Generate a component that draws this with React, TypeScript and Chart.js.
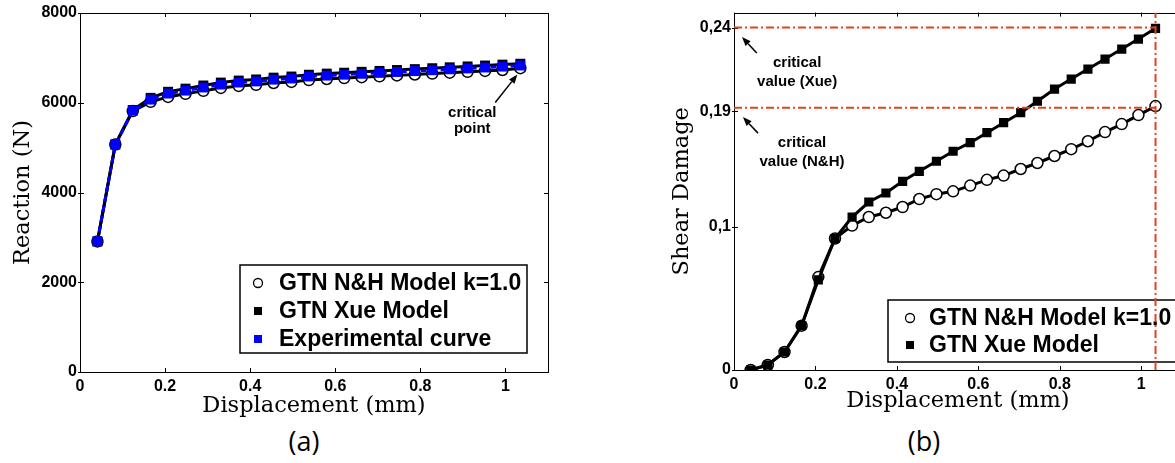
import React, { useEffect, useRef } from 'react';
import { Chart, registerables } from 'chart.js';

Chart.register(...registerables);

// ---------- data ----------
const displacement = [0.041, 0.083, 0.124, 0.166, 0.207, 0.248, 0.29, 0.331, 0.373, 0.414, 0.455, 0.497, 0.538, 0.58, 0.621, 0.662, 0.704, 0.745, 0.787, 0.828, 0.869, 0.911, 0.952, 0.993, 1.035];

const reactionNH = [2910, 5070, 5815, 6020, 6130, 6200, 6265, 6330, 6375, 6400, 6440, 6465, 6505, 6530, 6550, 6570, 6590, 6610, 6630, 6650, 6670, 6690, 6710, 6730, 6770];
const reactionXue = [2910, 5070, 5840, 6110, 6245, 6315, 6385, 6450, 6495, 6520, 6560, 6585, 6625, 6650, 6670, 6690, 6710, 6730, 6750, 6770, 6790, 6810, 6830, 6850, 6870];
const reactionExp = [2910, 5070, 5825, 6070, 6205, 6270, 6340, 6405, 6450, 6475, 6515, 6540, 6585, 6605, 6625, 6645, 6665, 6685, 6705, 6725, 6745, 6765, 6785, 6805, 6830];

const damageNH = [0, 0.0035, 0.0126, 0.031, 0.065, 0.092, 0.101, 0.107, 0.11, 0.114, 0.1196, 0.123, 0.125, 0.129, 0.133, 0.136, 0.1406, 0.1448, 0.1497, 0.1545, 0.16, 0.1664, 0.172, 0.1783, 0.1846];
const damageXue = [0, 0.0035, 0.0126, 0.031, 0.063, 0.092, 0.107, 0.1175, 0.1238, 0.132, 0.139, 0.146, 0.153, 0.159, 0.166, 0.173, 0.18, 0.188, 0.1965, 0.2035, 0.2105, 0.2175, 0.2245, 0.2315, 0.239];

const dispTicks = [0, 0.2, 0.4, 0.6, 0.8, 1];
const dispTickLabels = ['0', '0.2', '0.4', '0.6', '0.8', '1'];
const reactionTicks = [0, 2000, 4000, 6000, 8000];
const reactionTickLabels = ['0', '2000', '4000', '6000', '8000'];
const damageTicks = [0, 0.1, 0.181, 0.2395];
const damageTickLabels = ['0', '0,1', '0,19', '0,24'];

const critDisp = 1.035;
const critDamageXue = 0.2395;
const critDamageNH = 0.1835;

const labelNH = 'GTN N&H Model k=1.0';
const labelXue = 'GTN Xue Model';
const labelExp = 'Experimental curve';

// annotations (data coordinates)
const annotationsA = [
  { lines: ['critical', 'point'], x: 0.922, ys: [5782, 5425], from: [0.976, 6005], to: [1.028, 6628] },
];
const annotationsB = [
  { lines: ['critical', 'value (Xue)'], x: 0.155, ys: [0.2147, 0.2014], from: [0.056, 0.2217], to: [0.0196, 0.2329] },
  { lines: ['critical', 'value (N&H)'], x: 0.167, ys: [0.1587, 0.1455], from: [0.059, 0.1657], to: [0.022, 0.1769] },
];

// ---------- styling ----------
const SANS = '"Liberation Sans", Arial, Helvetica, sans-serif';
const RED = '#e2421f';
const BLUE = '#0000ff';

const xy = (xs: number[], ys: number[]) => xs.map((x, i) => ({ x, y: ys[i] }));

function makeAxis(kind: 'x' | 'y', min: number, max: number, ticks: number[], labels: string[], title: string, fit: number, titlePad: any) {
  return {
    type: 'linear',
    min,
    max,
    afterBuildTicks: (s: any) => {
      s.ticks = ticks.map((v) => ({ value: v }));
    },
    afterFit: (s: any) => {
      if (kind === 'x') s.height = fit;
      else s.width = fit;
    },
    grid: { display: false, drawTicks: false },
    border: { display: false },
    ticks: {
      autoSkip: false,
      maxRotation: 0,
      padding: kind === 'x' ? 5 : 3,
      color: '#000',
      font: { family: SANS, size: 16, weight: 'bold' },
      callback: (v: number) => {
        const i = ticks.indexOf(v);
        return i >= 0 ? labels[i] : '';
      },
    },
    title: {
      display: true,
      text: title,
      color: '#000',
      font: { family: '"DejaVu Serif", serif', size: 22.5, weight: 'normal' },
      padding: titlePad,
    },
  };
}

const framePlugin = {
  id: 'frameTicks',
  beforeDatasetsDraw(chart: any) {
    const { ctx, chartArea: a, scales } = chart;
    ctx.save();
    ctx.strokeStyle = '#000';
    ctx.lineWidth = 1;
    ctx.strokeRect(Math.round(a.left) + 0.5, Math.round(a.top) + 0.5, Math.round(a.right - a.left), Math.round(a.bottom - a.top));
    const tl = 4;
    ctx.beginPath();
    scales.x.ticks.forEach((t: any) => {
      const px = Math.round(scales.x.getPixelForValue(t.value)) + 0.5;
      ctx.moveTo(px, a.top);
      ctx.lineTo(px, a.top + tl);
      ctx.moveTo(px, a.bottom);
      ctx.lineTo(px, a.bottom - tl);
    });
    scales.y.ticks.forEach((t: any) => {
      const py = Math.round(scales.y.getPixelForValue(t.value)) + 0.5;
      ctx.moveTo(a.left - 2, py);
      ctx.lineTo(a.left + tl, py);
      ctx.moveTo(a.right, py);
      ctx.lineTo(a.right - tl, py);
    });
    ctx.stroke();
    ctx.restore();
  },
};

function makeLegendPlugin(box: { left: number; top: number; right: number; bottom: number }, rows: number[], markerX: number, textX: number) {
  return {
    id: 'boxLegend',
    beforeDatasetsDraw(chart: any) {
      const { ctx } = chart;
      const items = chart.data.datasets.filter((d: any) => d.inLegend);
      ctx.save();
      ctx.fillStyle = '#fff';
      ctx.fillRect(box.left, box.top, box.right - box.left, box.bottom - box.top);
      ctx.strokeStyle = '#000';
      ctx.lineWidth = 1.5;
      ctx.strokeRect(box.left, box.top, box.right - box.left, box.bottom - box.top);
      items.forEach((d: any, i: number) => {
        const y = rows[i];
        if (d.pointStyle === 'circle') {
          ctx.beginPath();
          ctx.arc(markerX, y, 4.5, 0, Math.PI * 2);
          ctx.fillStyle = '#fff';
          ctx.fill();
          ctx.lineWidth = 1.3;
          ctx.strokeStyle = '#000';
          ctx.stroke();
        } else {
          ctx.fillStyle = d.pointBackgroundColor;
          ctx.fillRect(markerX - 4, y - 4, 8, 8);
        }
        ctx.fillStyle = '#000';
        ctx.font = `bold 23px ${SANS}`;
        ctx.textAlign = 'left';
        ctx.textBaseline = 'middle';
        ctx.fillText(d.label, textX, y + 1);
      });
      ctx.restore();
    },
  };
}

function drawArrow(ctx: CanvasRenderingContext2D, x1: number, y1: number, x2: number, y2: number) {
  const ang = Math.atan2(y2 - y1, x2 - x1);
  const len = 9;
  const w = 3.5;
  const bx = x2 - len * Math.cos(ang);
  const by = y2 - len * Math.sin(ang);
  ctx.beginPath();
  ctx.moveTo(x1, y1);
  ctx.lineTo(bx, by);
  ctx.stroke();
  ctx.beginPath();
  ctx.moveTo(x2, y2);
  ctx.lineTo(bx + w * Math.sin(ang), by - w * Math.cos(ang));
  ctx.lineTo(bx - w * Math.sin(ang), by + w * Math.cos(ang));
  ctx.closePath();
  ctx.fill();
}

function makeAnnotationPlugin(anns: any[]) {
  return {
    id: 'annotations',
    afterDraw(chart: any) {
      const { ctx, scales } = chart;
      ctx.save();
      ctx.fillStyle = '#000';
      ctx.strokeStyle = '#000';
      ctx.lineWidth = 1.5;
      ctx.font = `bold 15px ${SANS}`;
      ctx.textAlign = 'center';
      ctx.textBaseline = 'middle';
      anns.forEach((a) => {
        const px = scales.x.getPixelForValue(a.x);
        a.lines.forEach((t: string, i: number) => {
          ctx.fillText(t, px, scales.y.getPixelForValue(a.ys[i]));
        });
        drawArrow(
          ctx,
          scales.x.getPixelForValue(a.from[0]),
          scales.y.getPixelForValue(a.from[1]),
          scales.x.getPixelForValue(a.to[0]),
          scales.y.getPixelForValue(a.to[1])
        );
      });
      ctx.restore();
    },
  };
}

function configA(): any {
  return {
    type: 'line',
    data: {
      datasets: [
        {
          label: labelNH, inLegend: true, data: xy(displacement, reactionNH), order: 2,
          borderColor: '#000', borderWidth: 3, pointStyle: 'circle', pointRadius: 5.5,
          pointBackgroundColor: '#fff', pointBorderColor: '#000', pointBorderWidth: 1.5,
        },
        {
          label: labelXue, inLegend: true, data: xy(displacement, reactionXue), order: 1,
          borderColor: '#000', borderWidth: 3, pointStyle: 'rect', pointRadius: 7,
          pointBackgroundColor: '#000', pointBorderColor: '#000', pointBorderWidth: 0,
        },
        {
          label: labelExp, inLegend: true, data: xy(displacement, reactionExp), order: 0,
          borderColor: BLUE, borderWidth: 3, borderDash: [6, 4], pointStyle: 'rect', pointRadius: 7,
          pointBackgroundColor: BLUE, pointBorderColor: BLUE, pointBorderWidth: 0,
        },
      ],
    },
    options: {
      animation: false,
      responsive: false,
      devicePixelRatio: 1,
      events: [],
      layout: { padding: { left: 0, top: 13, right: 52, bottom: 0 } },
      scales: {
        x: makeAxis('x', 0, 1.1, dispTicks, dispTickLabels, 'Displacement (mm)', 48, { top: 0, bottom: 0 }),
        y: makeAxis('y', 0, 8000, reactionTicks, reactionTickLabels, 'Reaction (N)', 80, { top: 10, bottom: 0 }),
      },
      plugins: { legend: { display: false }, tooltip: { enabled: false } },
    },
    plugins: [
      framePlugin,
      makeLegendPlugin({ left: 240, top: 265, right: 527, bottom: 353 }, [283, 311, 339], 258, 279),
      makeAnnotationPlugin(annotationsA),
    ],
  };
}

function configB(): any {
  const redLine = {
    borderColor: RED, borderWidth: 2, borderDash: [8, 3, 2, 3], pointRadius: 0, order: -1, inLegend: false,
  };
  return {
    type: 'line',
    data: {
      datasets: [
        {
          label: labelNH, inLegend: true, data: xy(displacement, damageNH), order: 2,
          borderColor: '#000', borderWidth: 3, pointStyle: 'circle', pointRadius: 5.5,
          pointBackgroundColor: '#fff', pointBorderColor: '#000', pointBorderWidth: 1.5,
        },
        {
          label: labelXue, inLegend: true, data: xy(displacement, damageXue), order: 1,
          borderColor: '#000', borderWidth: 3, pointStyle: 'rect', pointRadius: 6.5,
          pointBackgroundColor: '#000', pointBorderColor: '#000', pointBorderWidth: 0,
        },
        { ...redLine, label: 'crit Xue', data: [{ x: 0, y: critDamageXue }, { x: critDisp, y: critDamageXue }] },
        { ...redLine, label: 'crit NH', data: [{ x: 0, y: critDamageNH }, { x: critDisp, y: critDamageNH }] },
        { ...redLine, label: 'crit disp', data: [{ x: critDisp, y: 0 }, { x: critDisp, y: 0.25 }] },
      ],
    },
    options: {
      animation: false,
      responsive: false,
      devicePixelRatio: 1,
      events: [],
      layout: { padding: { left: 0, top: 12, right: 28, bottom: 0 } },
      scales: {
        x: makeAxis('x', 0, 1.1, dispTicks, dispTickLabels, 'Displacement (mm)', 50, { top: 0, bottom: 5 }),
        y: makeAxis('y', 0, 0.25, damageTicks, damageTickLabels, 'Shear Damage', 84, { top: 19, bottom: 0 }),
      },
      plugins: { legend: { display: false }, tooltip: { enabled: false } },
    },
    plugins: [
      framePlugin,
      makeLegendPlugin({ left: 238, top: 300, right: 530, bottom: 362 }, [318, 345], 260, 279),
      makeAnnotationPlugin(annotationsB),
    ],
  };
}

function ChartCanvas({ make, left, width, height }: { make: () => any; left: number; width: number; height: number }) {
  const ref = useRef<HTMLCanvasElement>(null);
  useEffect(() => {
    const chart = new Chart(ref.current as HTMLCanvasElement, make());
    return () => chart.destroy();
  }, []);
  return (
    <canvas
      ref={ref}
      width={width}
      height={height}
      style={{ position: 'absolute', left, top: 0, width, height }}
    />
  );
}

export default function App() {
  const capStyle: React.CSSProperties = {
    position: 'absolute',
    top: 424,
    width: 80,
    textAlign: 'center',
    fontFamily: '"Open Sans", sans-serif',
    fontSize: 27,
    lineHeight: '34px',
    color: '#000',
  };
  return (
    <div style={{ position: 'absolute', left: 0, top: 0, width: 1175, height: 463, overflow: 'hidden', background: '#fff' }}>
      <ChartCanvas make={configA} left={0} width={600} height={420} />
      <ChartCanvas make={configB} left={650} width={560} height={420} />
      <div style={{ ...capStyle, left: 264 }}>(a)</div>
      <div style={{ ...capStyle, left: 884 }}>(b)</div>
    </div>
  );
}
